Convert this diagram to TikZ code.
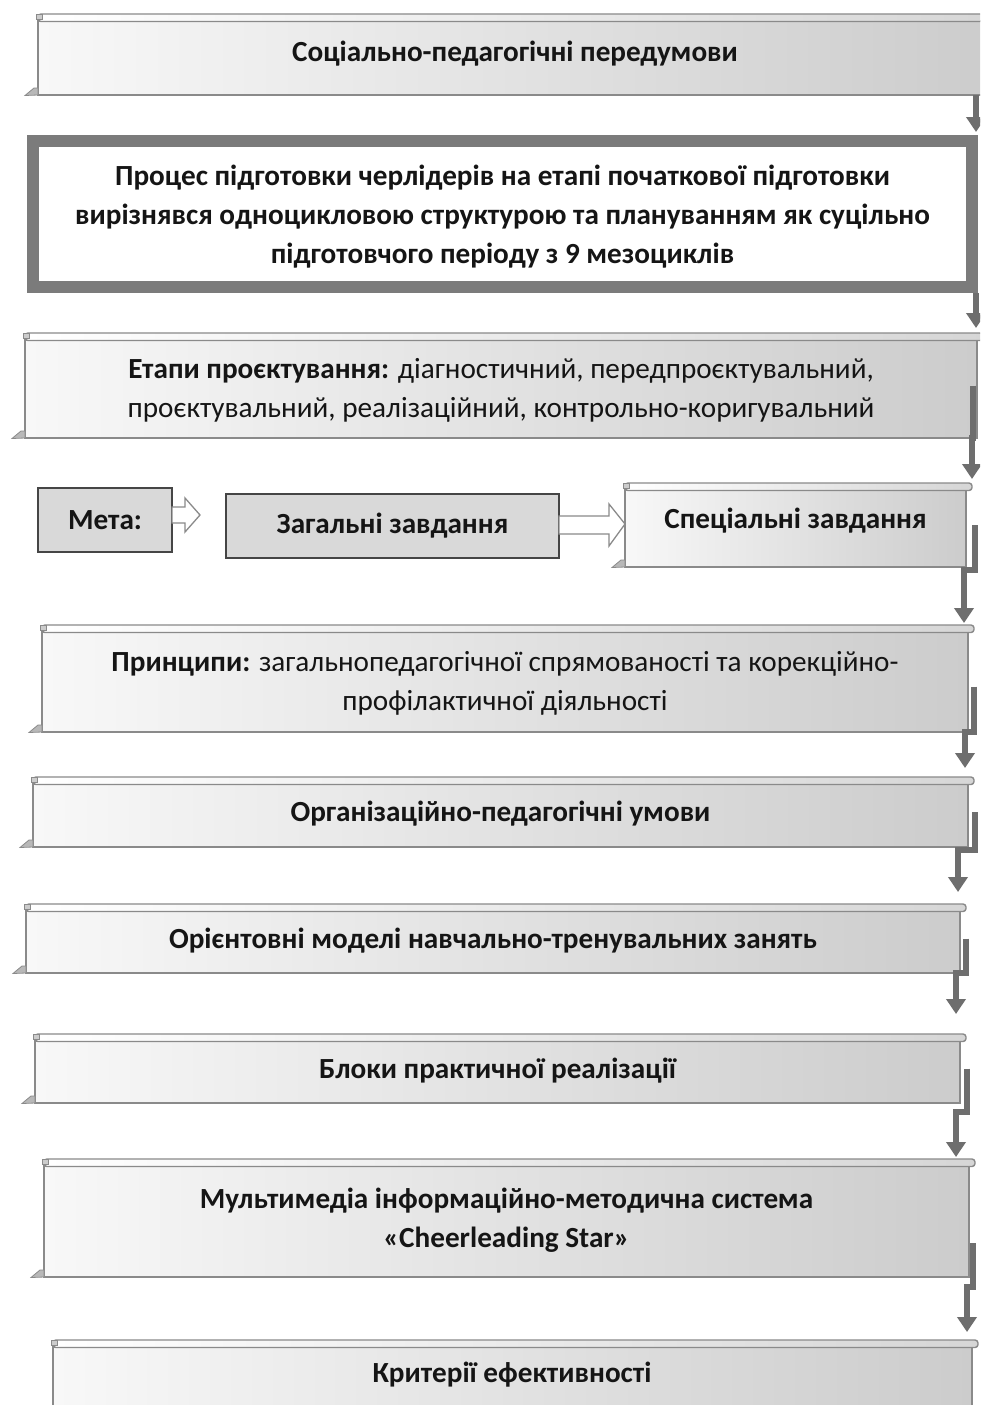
\documentclass[tikz,border=0pt]{standalone}
\usepackage{fontspec}
\setmainfont{Carlito}
\usetikzlibrary{arrows.meta,calc}
\definecolor{gl}{HTML}{F8F8F8}
\definecolor{gr}{HTML}{CCCCCC}
\definecolor{ol}{HTML}{8A8A8A}
\definecolor{cn}{HTML}{6E6E6E}
\definecolor{tb}{HTML}{7B7B7B}
\definecolor{mf}{HTML}{D9D9D9}
\definecolor{mb}{HTML}{454545}
\definecolor{txt}{HTML}{151515}
\tikzset{
  lbl/.style={font=\fontsize{29.2}{39}\selectfont\bfseries, text=txt, align=center},
  frame/.style={inner sep=0pt, outer sep=0pt, anchor=north west},
  conn/.style={draw=cn, line width=5.5pt, -{Triangle[length=15pt,width=19pt]}},
  blockarr/.style={draw=ol, line width=1.3pt, fill=white, line join=miter},
  flatbox/.style={draw=mb, line width=1.3pt, fill=mf, minimum height=64pt, inner sep=0pt, outer sep=0pt, lbl},
}
% scroll box: [text yshift], name, L, T, R, B, text
\newcommand\scrollbox[7][-2pt]{%
  \shade[left color=gl, right color=gr, draw=ol, line width=1.4pt] (#3,#4+7) rectangle (#5,#6);
  \shade[left color=white, right color=gr!80, draw=ol, line width=1.4pt, rounded corners=3pt] (#3,#4) rectangle (#5+6,#4+7.5);
  \filldraw[draw=ol, fill=gr, line width=0.8pt] (#3-2,#4) rectangle (#3+4,#4+5);
  \filldraw[draw=ol, fill=gr!90!black, line width=0.8pt] (#3,#6) -- (#3-13,#6+0.5) -- (#3-4,#6-7) -- (#3,#6-7) -- cycle;
  \node[frame, minimum width={#5-#3}, minimum height={#6-#4}] (#2) at (#3,#4) {};
  \node[lbl, yshift=#1] (#2-t) at (#2.center) {#7};
}
\begin{document}
\begin{tikzpicture}[x=1pt,y=-1pt]
\useasboundingbox (0,0) rectangle (980,1405);
\clip (0,0) rectangle (980,1405);
\fill[white] (0,0) rectangle (980,1405);

\scrollbox[1pt]{b1}{38}{14}{992}{95}{Соціально-педагогічні передумови}

\node[draw=tb, line width=12pt, outer sep=6pt, minimum width=939pt, minimum height=146pt, lbl, text depth=0pt] (b2) at (502.5,214)
  {Процес підготовки черлідерів на етапі початкової підготовки\\вирізнявся одноцикловою структурою та плануванням як суцільно\\підготовчого періоду з 9 мезоциклів};

\scrollbox[-5pt]{b3}{25}{333}{977}{438}{Етапи проєктування: \mdseries діагностичний, передпроєктувальний,\\\mdseries проєктувальний, реалізаційний, контрольно-коригувальний}

\node[flatbox, minimum width=134pt] (meta) at (105,520) {Мета:};
\node[flatbox, minimum width=333pt] (zag) at (392.5,526) {Загальні завдання};
\scrollbox[4pt]{spec}{625}{483}{966}{567}{Спеціальні завдання}

\scrollbox[-5pt]{b5}{42}{625}{968}{732}{Принципи: \mdseries загальнопедагогічної спрямованості та корекційно-\\\mdseries профілактичної діяльності}
\scrollbox{b6}{33}{777}{968}{847}{Організаційно-педагогічні умови}
\scrollbox{b7}{26}{904}{960}{973}{Орієнтовні моделі навчально-тренувальних занять}
\scrollbox{b8}{35}{1034}{960}{1103}{Блоки практичної реалізації}
\scrollbox{b9}{44}{1159}{969}{1277}{Мультимедіа інформаційно-методична система\\«Cheerleading Star»}
\scrollbox{b10}{53}{1340}{972}{1420}{}
\node[lbl] (b10-txt) at (512,1375) {Критерії ефективності};

% hollow block arrows
\draw[blockarr] ($(meta.east)+(0,-13)$) -- ++(13,0) -- ++(0,-9) -- ++(15,17) -- ++(-15,17) -- ++(0,-9) -- ++(-13,0) -- cycle;
\draw[blockarr] ($(zag.east)+(0,-10)$) -- ++(50,0) -- ++(0,-12) -- (spec.west |- {$(zag.east)+(0,-2)$}) -- ($(zag.east)+(50,20)$) -- ++(0,-12) -- ++(-50,0) -- cycle;

% connectors
\draw[conn, shorten >=3pt] ([xshift=-2pt]b2.north east |- b1.south) -- ([xshift=-2pt]b2.north east);
\draw[conn, shorten >=5pt] ([xshift=-2pt]b2.south east) -- ([xshift=-2pt]b2.south east |- b3.north);
\draw[conn, shorten >=4pt] ([xshift=-4pt]b3.east) -- ([xshift=-4pt]b3.south east) -| ([xshift=6pt]spec.north east);
\draw[conn, shorten >=2pt] ([xshift=9pt]spec.east) -- ([xshift=9pt,yshift=-3pt]spec.south east) -| ([xshift=-4pt]b5.north east);
\draw[conn, shorten >=9pt] ([xshift=6pt,yshift=-8pt]b5.east) -- ([xshift=6pt]b5.south east) -| ([xshift=-3pt]b6.north east);
\draw[conn, shorten >=12pt] ([xshift=7pt]b6.east) -- ([xshift=7pt,yshift=-3pt]b6.south east) -| ([xshift=-2pt]b7.north east);
\draw[conn, shorten >=20pt] ([xshift=6pt]b7.east) -- ([xshift=6pt]b7.south east) -| ([xshift=-4pt]b8.north east);
\draw[conn, shorten >=2pt] ([xshift=7pt]b8.east) -- ([xshift=7pt,yshift=-9pt]b8.south east) -| ([xshift=-13pt]b9.north east);
\draw[conn, shorten >=8pt] ([xshift=4pt,yshift=-25pt]b9.east) -- ([xshift=4pt,yshift=-10pt]b9.south east) -| ([xshift=-5pt]b10.north east);
\end{tikzpicture}
\end{document}
